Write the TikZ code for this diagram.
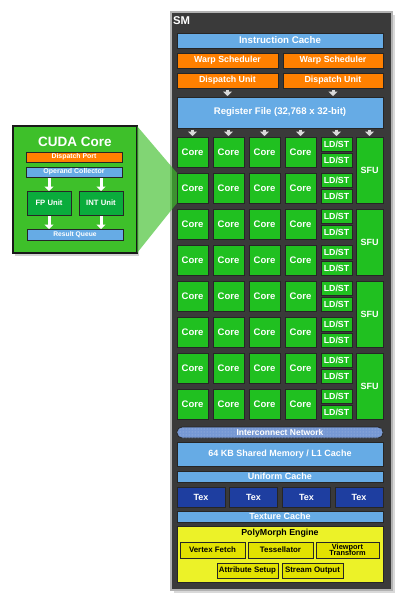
\documentclass[tikz,border=0pt]{standalone}
\usepackage{fontspec}
\setmainfont{Liberation Sans}
\usetikzlibrary{arrows.meta,patterns}
\definecolor{smgrau}{RGB}{58,58,58}
\definecolor{cacheblau}{RGB}{102,171,229}
\definecolor{netzblau}{RGB}{118,152,212}
\definecolor{orange}{RGB}{255,128,0}
\definecolor{kerngruen}{RGB}{32,192,32}
\definecolor{cudagruen}{RGB}{62,192,42}
\definecolor{einheitgruen}{RGB}{10,172,60}
\definecolor{texblau}{RGB}{30,62,160}
\definecolor{polygelb}{RGB}{236,242,40}
\definecolor{innengelb}{RGB}{226,226,0}
\tikzset{
    fnt/.style={font=\bfseries\fontsize{#1}{#1}\selectfont},
    box/.style={draw=black!85, line width=0.8pt, inner sep=0pt, outer sep=0pt,
        text=white, align=center},
    bluebox/.style={box, fill=cacheblau},
    orangebox/.style={box, fill=orange},
    core/.style={box, fill=kerngruen, minimum width=31, minimum height=30, fnt=9.5},
    ldst/.style={box, fill=kerngruen, minimum width=31, minimum height=14, fnt=8.8},
    sfu/.style={box, fill=kerngruen, minimum width=27, minimum height=66, fnt=9},
    tex/.style={box, fill=texblau, minimum width=48, minimum height=20, fnt=9},
    polybox/.style={box, fill=innengelb, text=black, minimum height=16, fnt=7.9},
    grayarrow/.style={-{Triangle[width=9pt,length=4.5pt]}, line width=3pt, gray!30,
        shorten <=1.5pt, shorten >=1pt},
    whitearrow/.style={-{Triangle[width=9pt,length=4.5pt]}, line width=3pt, white,
        shorten <=1pt},
    lupe/.style={fill=cudagruen, fill opacity=0.65}
}
\begin{document}
\begin{tikzpicture}[x=1pt,y=-1pt]
    \useasboundingbox[fill=white] (0,0) rectangle (402,600);
    % SM Rahmen
    \fill[gray!30] (174,15) rectangle (395,593);
    \node[draw=gray!60, line width=2pt, fill=smgrau, inner sep=0pt,
        minimum width=221, minimum height=578] (sm) at (281.5,301) {};
    \node[anchor=west, text=white, fnt=11.3, inner sep=0pt] (smname) at (173,21) {SM};
    % Oberer Teil
    \node[bluebox, minimum width=206, minimum height=15, fnt=9.7] (ic) at (280,40.5) {Instruction Cache};
    \node[orangebox, minimum width=101, minimum height=15, fnt=8.8] (ws1) at (227.5,60.5) {Warp Scheduler};
    \node[orangebox, minimum width=100, minimum height=15, fnt=8.8] (ws2) at (333,60.5) {Warp Scheduler};
    \node[orangebox, minimum width=101, minimum height=15, fnt=8.8] (du1) at (227.5,80.5) {Dispatch Unit};
    \node[orangebox, minimum width=100, minimum height=15, fnt=8.8] (du2) at (333,80.5) {Dispatch Unit};
    \node[bluebox, minimum width=206, minimum height=31, fnt=9.6] (rf) at (280,112.5) {Register File (32,768 x 32-bit)};
    \foreach \d in {du1,du2}
    {
        \draw[grayarrow] (\d.south) -- (\d.south |- rf.north);
    }
    % Kerne
    \foreach \r in {1,...,8}
    {
        \foreach \c in {1,...,4}
        {
            \node[core] (c\r\c) at ({192.5+36*(\c-1)},{152+36*(\r-1)}) {Core};
        }
        \node[ldst] (ls\r a) at (336.5,{144+36*(\r-1)}) {LD/ST};
        \node[ldst] (ls\r b) at (336.5,{160+36*(\r-1)}) {LD/ST};
    }
    \foreach \k in {1,...,4}
    {
        \node[sfu] (sfu\k) at (369.5,{170+72*(\k-1)}) {SFU};
    }
    \foreach \s in {c11,c12,c13,c14,ls1a,sfu1}
    {
        \draw[grayarrow] (\s.north |- rf.south) -- (\s.north);
    }
    % Unterer Teil
    \node[box, fill=netzblau, rounded corners=5pt, minimum width=206, minimum height=11, fnt=8.5,
        postaction={pattern=dots, pattern color=white!40!netzblau}] (net) at (280,432.5) {Interconnect Network};
    \node[bluebox, minimum width=206, minimum height=24, fnt=9] (shm) at (280,454) {64 KB Shared Memory / L1 Cache};
    \node[bluebox, minimum width=206, minimum height=11, fnt=9] (uc) at (280,476.5) {Uniform Cache};
    \foreach \x [count=\i] in {201,253.5,306.5,359}
    {
        \node[tex] (tex\i) at (\x,497) {Tex};
    }
    \node[bluebox, minimum width=206, minimum height=11, fnt=9] (tc) at (280,516.5) {Texture Cache};
    % PolyMorph Engine
    \node[box, fill=polygelb, minimum width=206, minimum height=56] (pme) at (280,554) {};
    \node[text=black, fnt=8.8, inner sep=0pt] (pmetitel) at (280,533.5) {PolyMorph Engine};
    \node[polybox, minimum width=65] (vf) at (212.5,550) {Vertex Fetch};
    \node[polybox, minimum width=65] (ts) at (280.5,550) {Tessellator};
    \node[polybox, minimum width=63, fnt=7.4] (vt) at (347.5,550) {Viewport\\[-1pt]Transform};
    \node[polybox, minimum width=61, minimum height=15] (as) at (247.5,570.5) {Attribute Setup};
    \node[polybox, minimum width=61, minimum height=15] (so) at (312.5,570.5) {Stream Output};
    % CUDA Core
    \fill[gray!35] (15,128) rectangle (139,256);
    \node[box, draw=black!90, line width=1.2pt, fill=cudagruen, minimum width=124, minimum height=127] (cc) at (75,189.5) {};
    \node[text=white, fnt=13.5, inner sep=0pt] (cctitel) at (75,142) {CUDA Core};
    \node[orangebox, minimum width=96, minimum height=10, fnt=6.9] (dp) at (74,157) {Dispatch Port};
    \node[bluebox, minimum width=96, minimum height=10, fnt=7] (oc) at (74,172) {Operand Collector};
    \node[box, fill=einheitgruen, minimum width=44, minimum height=24, fnt=7.7] (fp) at (49,203) {FP Unit};
    \node[box, fill=einheitgruen, minimum width=44, minimum height=24, fnt=7.7] (int) at (101,203) {INT Unit};
    \node[bluebox, minimum width=96, minimum height=11, fnt=6.7] (rq) at (75,234.5) {Result Queue};
    \foreach \u in {fp,int}
    {
        \draw[whitearrow] (oc.south -| \u) -- (\u.north);
        \draw[whitearrow] (\u.south) -- (\u.south |- rq.north);
    }
    % Lupe
    \fill[lupe] (cc.north east) -- (c21.north west) -- (c21.south west) -- (cc.south east) -- cycle;
\end{tikzpicture}
\end{document}
